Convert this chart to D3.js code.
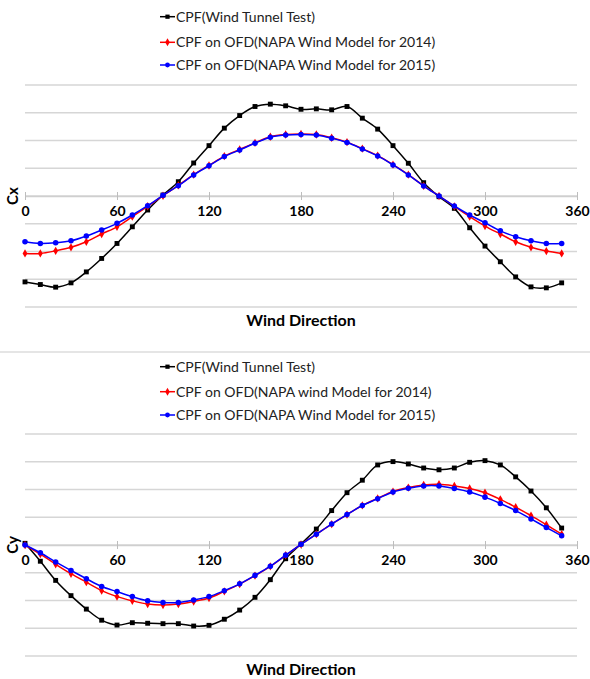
<!DOCTYPE html>
<html>
<head>
<meta charset="utf-8">
<script src="https://cdn.jsdelivr.net/npm/d3@7"></script>
<style>
  body { margin: 0; background: #fff; }
  svg { display: block; font-family: Lato, "Open Sans", sans-serif; }
</style>
</head>
<body>
<svg id="chart" width="590" height="679"></svg>
<script>
// wind direction, every 10 degrees
const directions = d3.range(0, 360, 10);
const xTicks = [0, 60, 120, 180, 240, 300, 360];

// Cx series
const cxTunnel = [-0.619, -0.638, -0.657, -0.626, -0.547, -0.450, -0.342, -0.222, -0.101, 0.007,
  0.103, 0.238, 0.363, 0.489, 0.580, 0.645, 0.662, 0.650, 0.625, 0.628,
  0.621, 0.645, 0.561, 0.482, 0.363, 0.236, 0.096, -0.005, -0.089, -0.229,
  -0.361, -0.474, -0.583, -0.655, -0.662, -0.626];
const cxNapa2014 = [-0.414, -0.414, -0.395, -0.370, -0.330, -0.274, -0.222, -0.149, -0.074, 0.002,
  0.076, 0.154, 0.220, 0.287, 0.335, 0.383, 0.427, 0.443, 0.447, 0.443,
  0.420, 0.388, 0.341, 0.291, 0.226, 0.154, 0.073, 0.000, -0.075, -0.149,
  -0.217, -0.274, -0.330, -0.370, -0.397, -0.414];
const cxNapa2015 = [-0.330, -0.342, -0.337, -0.323, -0.289, -0.245, -0.197, -0.137, -0.070, 0.005,
  0.074, 0.152, 0.218, 0.284, 0.332, 0.380, 0.424, 0.440, 0.444, 0.440,
  0.417, 0.385, 0.339, 0.289, 0.224, 0.152, 0.072, 0.000, -0.072, -0.137,
  -0.193, -0.251, -0.294, -0.323, -0.342, -0.342];

// Cy series
const cyTunnel = [0.012, -0.117, -0.255, -0.365, -0.462, -0.542, -0.577, -0.560, -0.564, -0.567,
  -0.567, -0.584, -0.579, -0.535, -0.469, -0.377, -0.250, -0.099, 0.007, 0.115,
  0.248, 0.377, 0.467, 0.577, 0.601, 0.584, 0.555, 0.542, 0.555, 0.596,
  0.608, 0.577, 0.491, 0.389, 0.268, 0.122];
const cyNapa2014 = [0.000, -0.066, -0.139, -0.207, -0.268, -0.329, -0.372, -0.402, -0.426, -0.433,
  -0.426, -0.407, -0.382, -0.334, -0.282, -0.221, -0.154, -0.074, 0.005, 0.078,
  0.150, 0.219, 0.285, 0.336, 0.385, 0.414, 0.433, 0.438, 0.426, 0.407,
  0.377, 0.329, 0.272, 0.212, 0.146, 0.078];
const cyNapa2015 = [0.000, -0.056, -0.122, -0.183, -0.243, -0.299, -0.336, -0.372, -0.402, -0.414,
  -0.414, -0.396, -0.372, -0.329, -0.280, -0.219, -0.153, -0.073, 0.005, 0.078,
  0.151, 0.219, 0.285, 0.334, 0.382, 0.409, 0.426, 0.426, 0.407, 0.382,
  0.345, 0.299, 0.248, 0.188, 0.126, 0.066];

const cxLegend = ['CPF(Wind Tunnel Test)', 'CPF on OFD(NAPA Wind Model for 2014)', 'CPF on OFD(NAPA Wind Model for 2015)'];
const cyLegend = ['CPF(Wind Tunnel Test)', 'CPF on OFD(NAPA wind Model for 2014)', 'CPF on OFD(NAPA Wind Model for 2015)'];
const seriesColors = ['#000000', '#ff0000', '#0000ff'];
const markerShapes = [d3.symbolSquare, d3.symbolDiamond, d3.symbolCircle];

const svg = d3.select('#chart');
const gridLevels = d3.range(-0.8, 0.81, 0.2);

const x = d3.scaleLinear().domain([0, 360]).range([25, 577]);

function drawChart(top, yLabel, legendNames, legendRows, series) {
    const g = svg.append('g').attr('transform', `translate(0,${top})`);
    const y = d3.scaleLinear().domain([-0.8, 0.8]).range([307, 85]);

    // gridlines
    g.selectAll('.grid').data(gridLevels).join('line')
        .attr('x1', x(0)).attr('x2', x(360))
        .attr('y1', d => y(d)).attr('y2', d => y(d))
        .attr('stroke', '#d6d6d6').attr('stroke-width', 1.5);

    // x axis sitting on zero
    const xAxis = g.append('g')
        .attr('transform', `translate(0,${y(0)})`)
        .call(d3.axisBottom(x).tickValues(xTicks).tickSize(4).tickSizeOuter(0));
    xAxis.select('.domain').attr('stroke', '#cfcfcf').attr('stroke-width', 1.5);
    xAxis.selectAll('.tick line').attr('stroke', '#bdbdbd').attr('y1', -4).attr('y2', 4);
    xAxis.selectAll('.tick text')
        .attr('y', 15).attr('dy', '0.35em')
        .attr('fill', '#000')
        .style('font-family', 'Lato, sans-serif')
        .style('font-size', '14px').style('font-weight', 'bold');

    const line = d3.line()
        .x((d, i) => x(directions[i]))
        .y(d => y(d))
        .curve(d3.curveCatmullRom);

    series.forEach((values, s) => {
        g.append('path').datum(values)
            .attr('d', line)
            .attr('fill', 'none')
            .attr('stroke', seriesColors[s])
            .attr('stroke-width', 1.5);
        g.append('g').selectAll('path').data(values).join('path')
            .attr('transform', (d, i) => `translate(${x(directions[i])},${y(d)})`)
            .attr('d', d3.symbol().type(markerShapes[s]).size(s === 1 ? 20 : 24))
            .attr('fill', seriesColors[s]);
    });

    // legend
    legendNames.forEach((name, s) => {
        const row = g.append('g').attr('transform', `translate(0,${legendRows[s]})`);
        row.append('line').attr('x1', 160).attr('x2', 175)
            .attr('stroke', seriesColors[s]).attr('stroke-width', 1.5);
        row.append('path').attr('transform', 'translate(167.5,0)')
            .attr('d', d3.symbol().type(markerShapes[s]).size(18))
            .attr('fill', seriesColors[s]);
        row.append('text').attr('x', 176).attr('dy', '0.35em')
            .attr('fill', '#222')
            .style('font-size', '14px').text(name);
    });

    g.append('text')
        .attr('x', (x(0) + x(360)) / 2).attr('y', 320).attr('dy', '0.35em')
        .attr('text-anchor', 'middle')
        .style('font-size', '16px').style('font-weight', 'bold')
        .text('Wind Direction');

    g.append('text')
        .attr('transform', `translate(13,${y(0)}) rotate(-90)`)
        .attr('text-anchor', 'middle').attr('dy', '0.35em')
        .style('font-size', '15px').style('font-weight', 'bold')
        .text(yLabel);
}

drawChart(0, 'Cx', cxLegend, [16.7, 42.3, 65], [cxTunnel, cxNapa2014, cxNapa2015]);

// divider between the two charts
svg.append('line').attr('x1', 0).attr('x2', 590).attr('y1', 352).attr('y2', 352)
    .attr('stroke', '#dcdcdc').attr('stroke-width', 1.5);

drawChart(349, 'Cy', cyLegend, [17.7, 42.7, 66], [cyTunnel, cyNapa2014, cyNapa2015]);
</script>
</body>
</html>
